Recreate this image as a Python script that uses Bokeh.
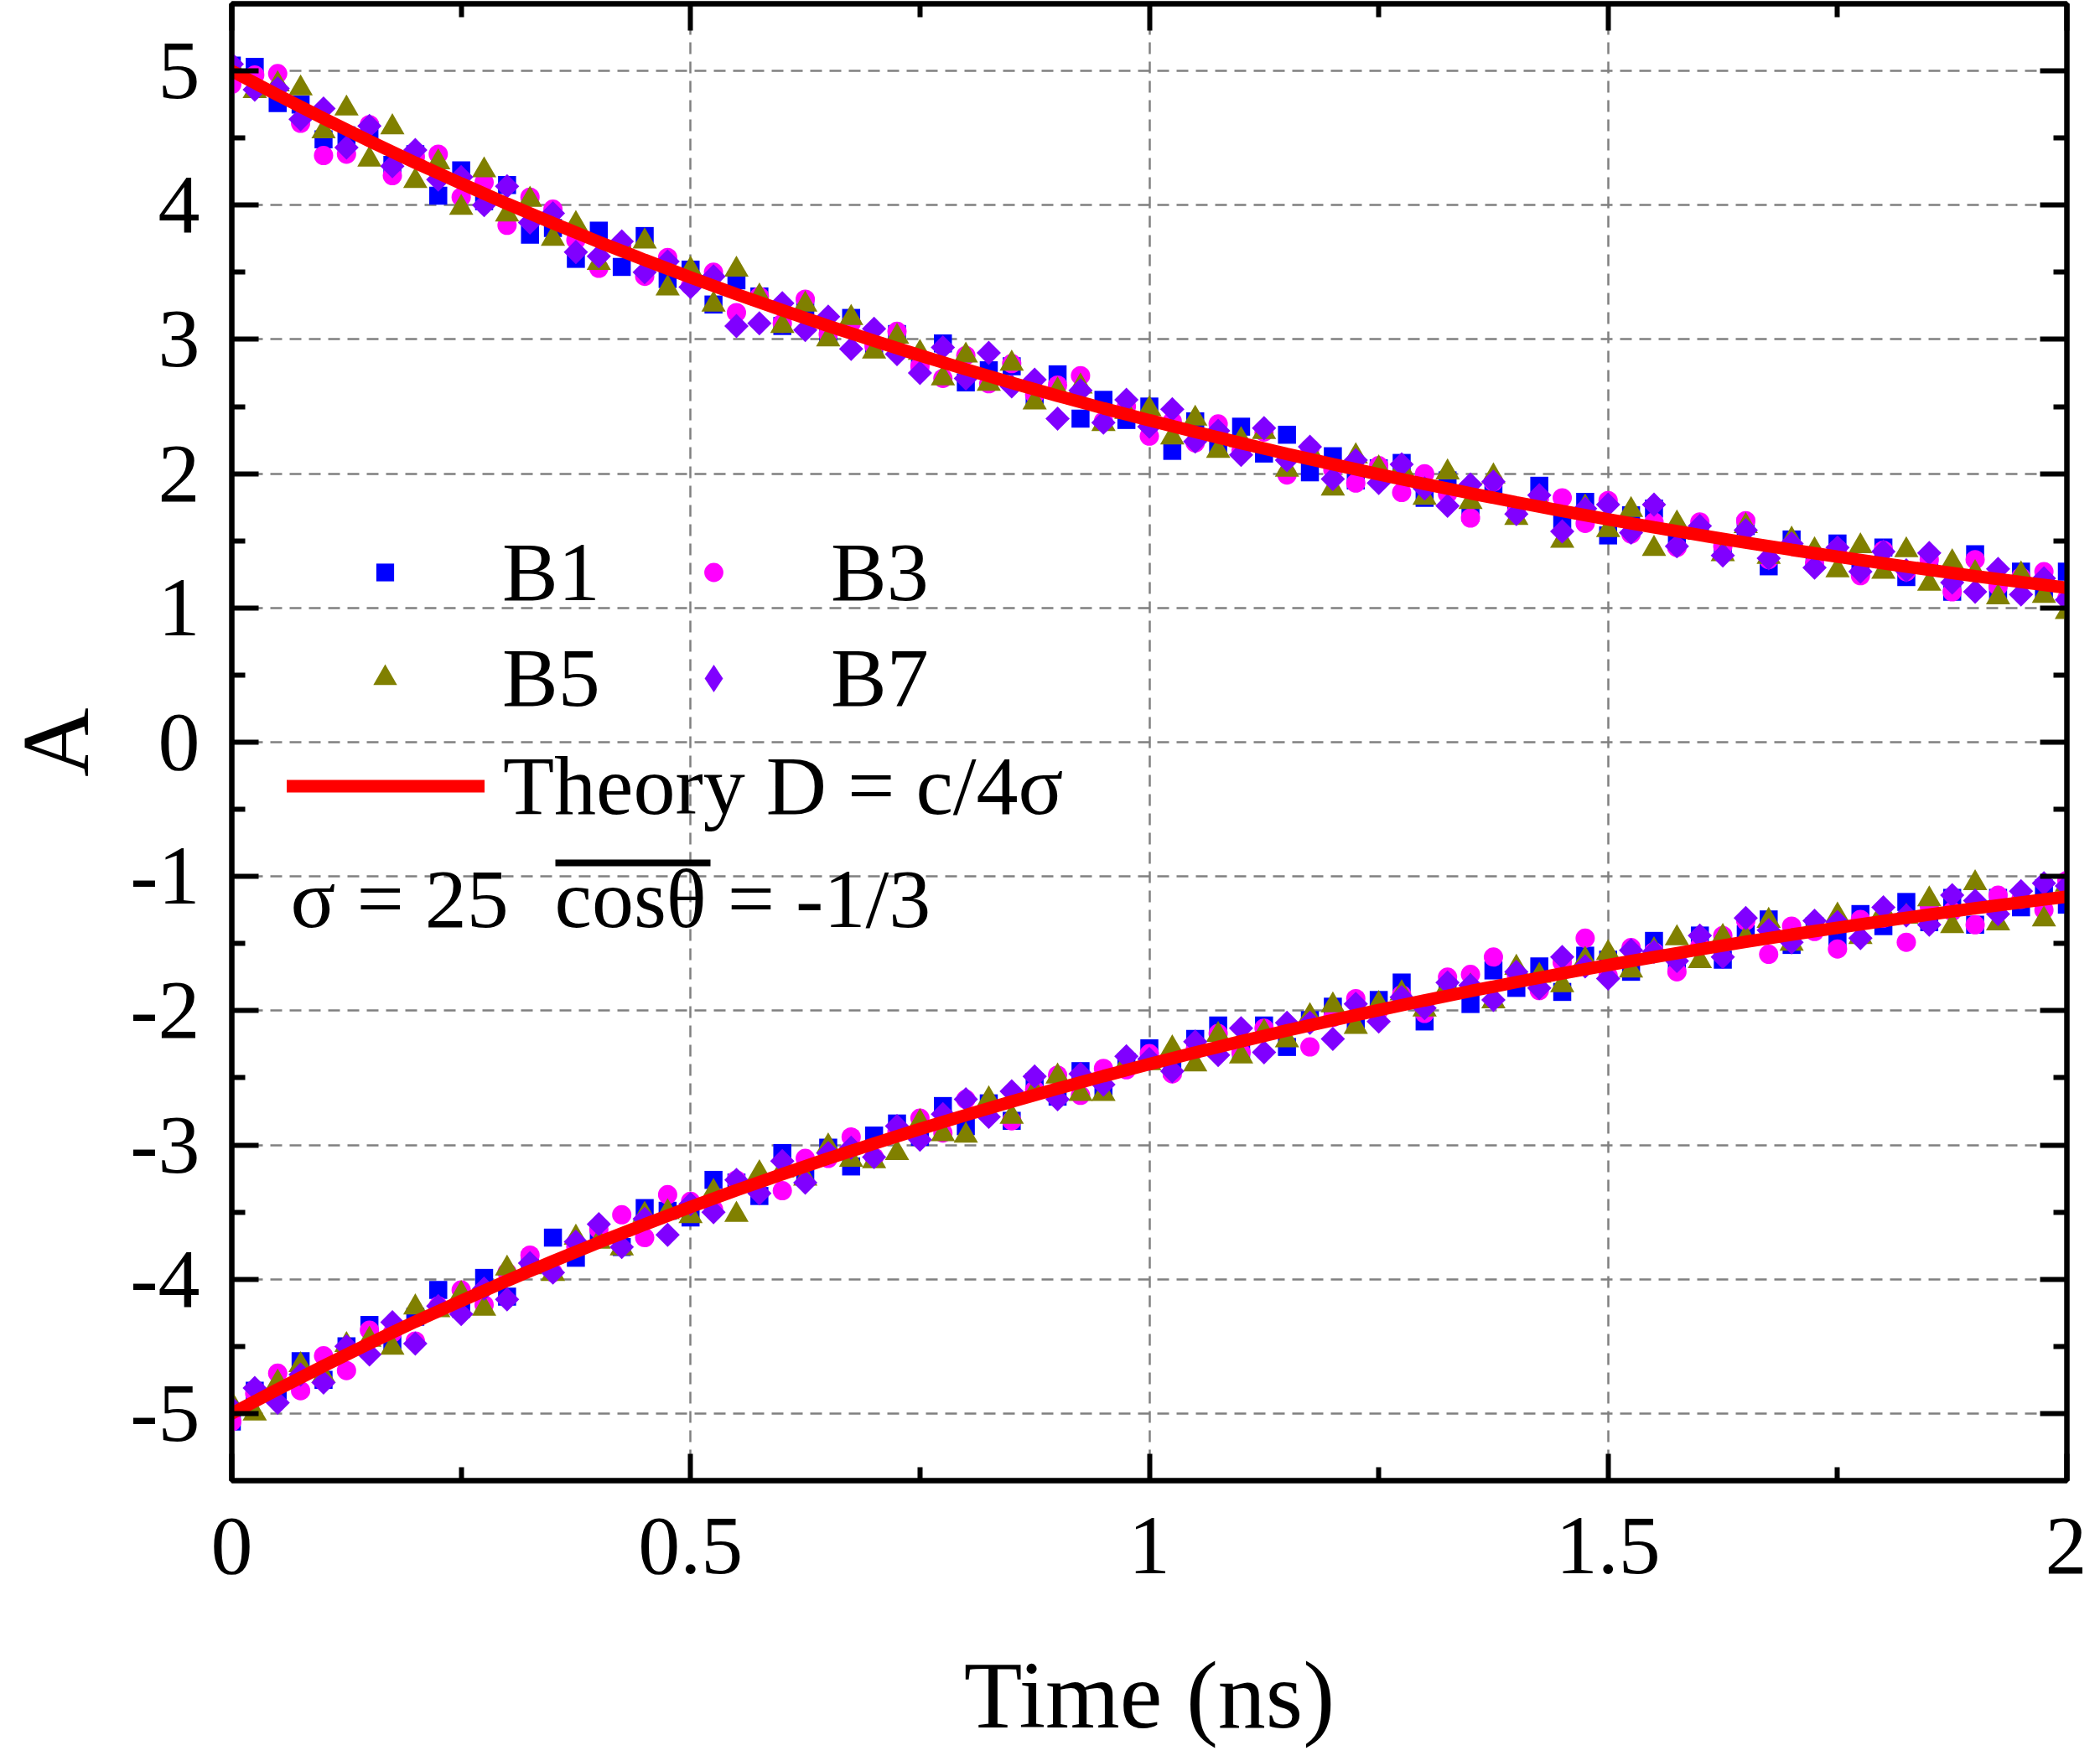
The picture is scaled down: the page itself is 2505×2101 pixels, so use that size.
from bokeh.plotting import figure
from bokeh.models import (Range1d, LinearAxis, FixedTicker, Legend, LegendItem,
                          Label, BoxAnnotation, ColumnDataSource, CustomLabelingPolicy)
from bokeh.embed import file_html
from bokeh.resources import INLINE

# ---------------- data ----------------
time = [0.0, 0.025, 0.05, 0.075, 0.1, 0.125, 0.15, 0.175, 0.2, 0.225,
        0.25, 0.275, 0.3, 0.325, 0.35, 0.375, 0.4, 0.425, 0.45, 0.475,
        0.5, 0.525, 0.55, 0.575, 0.6, 0.625, 0.65, 0.675, 0.7, 0.725,
        0.75, 0.775, 0.8, 0.825, 0.85, 0.875, 0.9, 0.925, 0.95, 0.975,
        1.0, 1.025, 1.05, 1.075, 1.1, 1.125, 1.15, 1.175, 1.2, 1.225,
        1.25, 1.275, 1.3, 1.325, 1.35, 1.375, 1.4, 1.425, 1.45, 1.475,
        1.5, 1.525, 1.55, 1.575, 1.6, 1.625, 1.65, 1.675, 1.7, 1.725,
        1.75, 1.775, 1.8, 1.825, 1.85, 1.875, 1.9, 1.925, 1.95, 1.975, 2.0]

b1_top = [5.04, 5.03, 4.76, 4.75, 4.49, 4.52, 4.56, 4.30, 4.38, 4.07,
          4.26, 4.03, 4.15, 3.78, 3.83, 3.60, 3.81, 3.54, 3.77, 3.45,
          3.52, 3.26, 3.44, 3.32, 3.10, 3.24, 3.04, 3.16, 2.95, 3.04,
          2.80, 2.97, 2.68, 2.77, 2.80, 2.57, 2.74, 2.41, 2.55, 2.40,
          2.50, 2.17, 2.39, 2.21, 2.35, 2.15, 2.29, 2.01, 2.13, 1.95,
          2.04, 2.08, 1.82, 1.95, 1.71, 1.90, 1.75, 1.91, 1.66, 1.79,
          1.54, 1.69, 1.74, 1.49, 1.58, 1.42, 1.61, 1.31, 1.51, 1.35,
          1.48, 1.32, 1.45, 1.23, 1.34, 1.12, 1.40, 1.12, 1.27, 1.13, 1.27]
b1_bottom = [-5.06, -4.83, -4.86, -4.61, -4.75, -4.50, -4.34, -4.48, -4.28, -4.08,
             -4.22, -3.99, -4.13, -3.86, -3.69, -3.84, -3.67, -3.76, -3.47, -3.49,
             -3.54, -3.26, -3.28, -3.38, -3.06, -3.20, -3.02, -3.16, -2.93, -2.84,
             -2.94, -2.71, -2.86, -2.69, -2.82, -2.53, -2.64, -2.45, -2.60, -2.38,
             -2.28, -2.43, -2.21, -2.11, -2.29, -2.11, -2.27, -2.07, -1.97, -2.09,
             -1.92, -1.79, -2.08, -1.83, -1.95, -1.70, -1.83, -1.67, -1.86, -1.59,
             -1.62, -1.71, -1.48, -1.63, -1.44, -1.62, -1.43, -1.32, -1.51, -1.37,
             -1.48, -1.28, -1.37, -1.19, -1.34, -1.16, -1.36, -1.16, -1.23, -1.09, -1.21]

b3_top = [4.90, 4.97, 4.98, 4.61, 4.37, 4.38, 4.60, 4.22, 4.36, 4.38,
          4.06, 4.17, 3.85, 4.06, 3.97, 3.74, 3.53, 3.70, 3.47, 3.61,
          3.40, 3.50, 3.20, 3.32, 3.12, 3.30, 3.04, 3.12, 2.95, 3.06,
          2.80, 2.71, 2.88, 2.67, 2.82, 2.59, 2.66, 2.73, 2.39, 2.50,
          2.28, 2.39, 2.23, 2.37, 2.17, 2.31, 1.99, 2.19, 2.03, 1.93,
          2.06, 1.86, 2.00, 1.85, 1.67, 1.94, 1.71, 1.81, 1.82, 1.63,
          1.80, 1.55, 1.64, 1.45, 1.64, 1.46, 1.65, 1.36, 1.47, 1.33,
          1.44, 1.24, 1.43, 1.27, 1.36, 1.12, 1.36, 1.16, 1.23, 1.27, 1.07]
b3_bottom = [-5.06, -4.85, -4.70, -4.83, -4.57, -4.68, -4.38, -4.40, -4.46, -4.20,
             -4.08, -4.19, -3.95, -3.82, -3.95, -3.76, -3.63, -3.52, -3.69, -3.37,
             -3.42, -3.48, -3.26, -3.26, -3.34, -3.10, -3.10, -2.94, -3.09, -2.90,
             -2.80, -2.91, -2.66, -2.71, -2.82, -2.59, -2.48, -2.63, -2.43, -2.44,
             -2.32, -2.47, -2.29, -2.17, -2.31, -2.13, -2.11, -2.27, -2.05, -1.91,
             -2.00, -1.88, -2.02, -1.75, -1.73, -1.60, -1.73, -1.85, -1.64, -1.46,
             -1.74, -1.53, -1.56, -1.71, -1.52, -1.44, -1.33, -1.58, -1.37, -1.41,
             -1.54, -1.32, -1.31, -1.49, -1.22, -1.26, -1.36, -1.14, -1.17, -1.25, -1.03]

b5_top = [5.04, 4.85, 4.90, 4.87, 4.55, 4.72, 4.34, 4.58, 4.18, 4.32,
          3.98, 4.26, 3.93, 4.04, 3.75, 3.86, 3.57, 3.70, 3.73, 3.38,
          3.52, 3.26, 3.52, 3.32, 3.10, 3.26, 3.00, 3.16, 2.91, 3.02,
          2.90, 2.71, 2.88, 2.67, 2.82, 2.53, 2.62, 2.65, 2.37, 2.46,
          2.48, 2.27, 2.41, 2.17, 2.25, 2.31, 2.03, 2.17, 1.89, 2.13,
          2.04, 2.04, 1.82, 2.01, 1.79, 1.98, 1.67, 1.79, 1.50, 1.75,
          1.58, 1.73, 1.44, 1.63, 1.56, 1.40, 1.61, 1.38, 1.51, 1.43,
          1.28, 1.46, 1.27, 1.43, 1.18, 1.34, 1.26, 1.08, 1.25, 1.09, 0.97]
b5_bottom = [-4.93, -5.00, -4.77, -4.64, -4.72, -4.49, -4.45, -4.51, -4.21, -4.23,
             -4.11, -4.22, -3.92, -3.91, -3.96, -3.69, -3.72, -3.77, -3.52, -3.50,
             -3.53, -3.35, -3.52, -3.21, -3.19, -3.25, -3.01, -3.11, -3.12, -3.06,
             -2.83, -2.92, -2.93, -2.66, -2.79, -2.60, -2.49, -2.62, -2.62, -2.39,
             -2.39, -2.28, -2.40, -2.18, -2.34, -2.16, -2.22, -2.04, -1.96, -2.12,
             -1.95, -1.87, -1.99, -1.82, -1.82, -1.93, -1.68, -1.74, -1.81, -1.62,
             -1.57, -1.70, -1.55, -1.46, -1.63, -1.45, -1.46, -1.33, -1.50, -1.36,
             -1.29, -1.45, -1.26, -1.30, -1.17, -1.37, -1.05, -1.35, -1.16, -1.32, -1.06]

b7_top = [5.05, 4.86, 4.87, 4.64, 4.72, 4.43, 4.59, 4.29, 4.41, 4.19,
          4.21, 4.00, 4.14, 3.87, 3.94, 3.65, 3.62, 3.73, 3.50, 3.58,
          3.39, 3.47, 3.10, 3.12, 3.27, 3.07, 3.17, 2.93, 3.08, 2.89,
          2.75, 2.94, 2.71, 2.90, 2.65, 2.70, 2.41, 2.62, 2.38, 2.55,
          2.35, 2.48, 2.24, 2.32, 2.14, 2.34, 2.10, 2.20, 1.96, 2.10,
          1.93, 2.07, 1.89, 1.76, 1.92, 1.94, 1.70, 1.84, 1.57, 1.74,
          1.77, 1.56, 1.77, 1.46, 1.61, 1.39, 1.58, 1.37, 1.48, 1.30,
          1.45, 1.27, 1.42, 1.28, 1.41, 1.19, 1.12, 1.29, 1.10, 1.22, 1.06]
b7_bottom = [-4.96, -4.81, -4.92, -4.71, -4.77, -4.50, -4.56, -4.32, -4.48, -4.20,
             -4.26, -4.07, -4.15, -3.88, -3.95, -3.72, -3.59, -3.76, -3.55, -3.67,
             -3.44, -3.50, -3.26, -3.36, -3.12, -3.28, -3.06, -3.02, -3.09, -2.86,
             -2.96, -2.77, -2.66, -2.79, -2.60, -2.49, -2.66, -2.47, -2.55, -2.34,
             -2.36, -2.45, -2.23, -2.33, -2.13, -2.31, -2.09, -2.09, -2.21, -1.95,
             -2.08, -1.90, -1.98, -1.79, -1.81, -1.92, -1.71, -1.83, -1.60, -1.67,
             -1.76, -1.55, -1.56, -1.63, -1.44, -1.60, -1.31, -1.40, -1.49, -1.33,
             -1.34, -1.46, -1.23, -1.29, -1.36, -1.14, -1.18, -1.28, -1.11, -1.05, -1.07]

theory_t = [0.0, 0.05, 0.1, 0.15, 0.2, 0.25, 0.3, 0.35, 0.4, 0.45,
            0.5, 0.55, 0.6, 0.65, 0.7, 0.75, 0.8, 0.85, 0.9, 0.95,
            1.0, 1.05, 1.1, 1.15, 1.2, 1.25, 1.3, 1.35, 1.4, 1.45,
            1.5, 1.55, 1.6, 1.65, 1.7, 1.75, 1.8, 1.85, 1.9, 1.95, 2.0]
theory_top = [5.000, 4.820, 4.646, 4.478, 4.316, 4.161, 4.011, 3.866, 3.726, 3.592,
              3.462, 3.337, 3.217, 3.101, 2.989, 2.881, 2.777, 2.677, 2.580, 2.487,
              2.398, 2.311, 2.228, 2.147, 2.070, 1.995, 1.923, 1.854, 1.787, 1.722,
              1.660, 1.600, 1.543, 1.487, 1.433, 1.382, 1.332, 1.284, 1.237, 1.193, 1.150]
theory_bottom = [-5.000, -4.820, -4.646, -4.478, -4.316, -4.161, -4.011, -3.866, -3.726, -3.592,
                 -3.462, -3.337, -3.217, -3.101, -2.989, -2.881, -2.777, -2.677, -2.580, -2.487,
                 -2.398, -2.311, -2.228, -2.147, -2.070, -1.995, -1.923, -1.854, -1.787, -1.722,
                 -1.660, -1.600, -1.543, -1.487, -1.433, -1.382, -1.332, -1.284, -1.237, -1.193, -1.150]

x_ticks = [0, 0.5, 1, 1.5, 2]
x_tick_labels = ["0", "0.5", "1", "1.5", "2"]
x_minor = [0.25, 0.75, 1.25, 1.75]
y_ticks = [-5, -4, -3, -2, -1, 0, 1, 2, 3, 4, 5]
y_tick_labels = ["-5", "-4", "-3", "-2", "-1", "0", "1", "2", "3", "4", "5"]
y_minor = [-4.5, -3.5, -2.5, -1.5, -0.5, 0.5, 1.5, 2.5, 3.5, 4.5]

series_names = ["B1", "B3", "B5", "B7"]
theory_label = "Theory D = c/4\u03c3"
note_left = "\u03c3 = 25"
note_right = "cos\u03b8 = -1/3"

FONT = "Liberation Serif"

# ---------------- figure ----------------
p = figure(width=2489, height=2093, x_range=Range1d(0, 2), y_range=Range1d(-5.5, 5.5),
           output_backend="svg", toolbar_location=None,
           min_border_left=272, min_border_right=24, min_border_top=3, min_border_bottom=327)
p.background_fill_color = "white"
p.border_fill_color = "white"
p.outline_line_color = "black"
p.outline_line_width = 6

def style_axis(ax, ticks, minor, labels, show):
    ax.ticker = FixedTicker(ticks=ticks, minor_ticks=minor)
    ax.axis_line_width = 6
    ax.axis_line_color = "black"
    ax.major_tick_line_width = 6
    ax.minor_tick_line_width = 6
    ax.major_tick_in = 32
    ax.major_tick_out = 0
    ax.minor_tick_in = 16
    ax.minor_tick_out = 0
    ax.major_label_text_font = FONT
    ax.major_label_text_color = "black"
    ax.major_label_overrides = dict(zip(ticks, labels))
    if show:
        ax.major_label_text_font_size = "100px"
    else:
        ax.major_label_text_font_size = "1px"
        ax.major_label_standoff = 0
        ax.major_label_policy = CustomLabelingPolicy(code="return []")

xa = p.xaxis[0]
ya = p.yaxis[0]
style_axis(xa, x_ticks, x_minor, x_tick_labels, True)
style_axis(ya, y_ticks, y_minor, y_tick_labels, True)
xa.major_label_standoff = 45
ya.major_label_standoff = 38
xa.axis_label = "Time (ns)"
ya.axis_label = "A"
for ax in (xa, ya):
    ax.axis_label_text_font = FONT
    ax.axis_label_text_font_size = "114px"
    ax.axis_label_text_font_style = "normal"
    ax.axis_label_text_color = "black"
xa.axis_label_standoff = 79
ya.axis_label_standoff = 22

top_ax = LinearAxis()
right_ax = LinearAxis()
style_axis(top_ax, x_ticks, x_minor, x_tick_labels, False)
style_axis(right_ax, y_ticks, y_minor, y_tick_labels, False)
p.add_layout(top_ax, "above")
p.add_layout(right_ax, "right")

for g, t in ((p.xgrid[0], x_ticks), (p.ygrid[0], y_ticks)):
    g.ticker = FixedTicker(ticks=t)
    g.grid_line_color = "#808080"
    g.grid_line_width = 2.5
    g.grid_line_dash = "14 9"

# ---------------- data marks ----------------
specs = [
    ("B1", b1_top, b1_bottom, "square", 21.5, 0.0, "#0000FF"),
    ("B3", b3_top, b3_bottom, "circle", 23, 0.0, "#FF00FF"),
    ("B5", b5_top, b5_bottom, "triangle", 29, 0.0, "#808000"),
    ("B7", b7_top, b7_bottom, "square", 20.5, 0.785398, "#8000FF"),
]
renderers = {}
for name, top, bot, marker, size, ang, col in specs:
    src = ColumnDataSource(dict(x=time + time, y=top + bot))
    r = p.scatter("x", "y", source=src, marker=marker, size=size, angle=ang,
                  fill_color=col, line_color=None)
    renderers[name] = r

# legend key for B7 (legend keys are drawn unrotated, so a diamond marker is used there)
b7_key = p.scatter(x=[float("nan")], y=[float("nan")], marker="diamond", size=32,
                   fill_color="#8000FF", line_color=None)

th_top = p.line(theory_t, theory_top, line_color="#FF0000", line_width=15, line_cap="round")
p.line(theory_t, theory_bottom, line_color="#FF0000", line_width=15, line_cap="round")

# ---------------- legends ----------------
def add_legend(label, rend, vx, vy, gw, gh, standoff):
    lg = Legend(items=[LegendItem(label=label, renderers=[rend])], location=(vx, vy),
                glyph_width=gw, glyph_height=gh, label_standoff=standoff,
                label_text_font=FONT, label_text_font_size="100px", label_text_color="black",
                label_height=111, padding=0, margin=0, spacing=0,
                border_line_color=None, background_fill_alpha=0)
    p.add_layout(lg, "center")
    return lg

add_legend("B1", renderers["B1"], 63, 1026, 240, 53, 20)
add_legend("B3", renderers["B3"], 455, 1026, 240, 57, 20)
add_legend("B5", renderers["B5"], 63, 900, 240, 71, 20)
add_legend("B7", b7_key, 455, 900, 240, 82, 20)
th_lg = add_legend(theory_label, th_top, 66, 771, 236, 111, 22)

# ---------------- annotation text ----------------
p.add_layout(Label(x=70, y=694, x_units="screen", y_units="screen", text=note_left,
                   text_font=FONT, text_font_size="100px", text_color="black",
                   text_baseline="alphabetic"))
p.add_layout(Label(x=385, y=694, x_units="screen", y_units="screen", text=note_right,
                   text_font=FONT, text_font_size="100px", text_color="black",
                   text_baseline="alphabetic"))
p.add_layout(BoxAnnotation(left=386, right=571, bottom=733, top=741,
                           left_units="screen", right_units="screen",
                           top_units="screen", bottom_units="screen",
                           fill_color="black", fill_alpha=1.0, line_color=None))

open("out.html", "w").write(file_html(p, INLINE))
